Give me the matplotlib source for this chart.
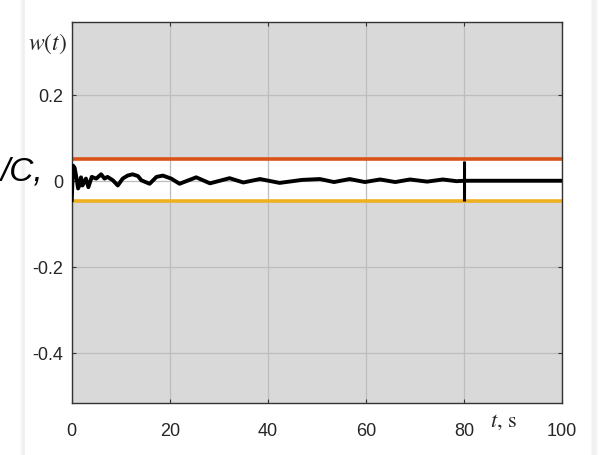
import matplotlib.pyplot as plt
from matplotlib.patches import Rectangle

# signal w(t)
t = [0, 0.3, 0.6, 1.0, 1.3, 1.6, 1.9, 2.2, 2.9, 3.4, 4.1, 5.0, 6.0, 6.7, 7.3,
     8.4, 9.4, 10.4, 11.4, 12.4, 13.5, 14.2, 15.9, 17.3, 18.6, 20.3, 22.0,
     25.4, 28.2, 32.2, 35.0, 38.4, 42.4, 47.0, 50.6, 53.5, 56.7, 59.8, 62.9,
     66.0, 69.0, 72.5, 75.7, 78.5, 80.0, 100.0]
w = [-0.045, 0.035, 0.03, 0.005, -0.018, -0.01, 0.008, -0.011, 0.005, -0.015,
     0.009, 0.005, 0.015, 0.005, 0.009, 0.001, -0.011, 0.005, 0.012, 0.015,
     0.011, 0.001, -0.007, 0.009, 0.012, 0.005, -0.007, 0.008, -0.006, 0.006,
     -0.004, 0.004, -0.005, 0.002, 0.004, -0.003, 0.004, -0.003, 0.003,
     -0.003, 0.003, -0.002, 0.003, -0.001, 0.0, 0.0]

upper = 0.05
lower = -0.047
t_mark = 80
xticks = [0, 20, 40, 60, 80, 100]
yticks = [-0.4, -0.2, 0, 0.2]
ylabels = ['-0.4', '-0.2', '0', '0.2']

tick_font = ['Liberation Sans Narrow', 'Liberation Sans', 'DejaVu Sans']
plt.rcParams['mathtext.fontset'] = 'stix'

fig = plt.figure(figsize=(6.05, 4.56), dpi=100)
fig.patch.set_facecolor('white')

# page shadow strips
for x0, wd, a in [(20, 5, 0.05), (22, 3, 0.05), (591, 7, 0.05), (592, 4, 0.05)]:
    fig.patches.append(Rectangle((x0 / 605, 0), wd / 605, 1, transform=fig.transFigure,
                                 color='gray', alpha=a, lw=0, zorder=0))

ax = fig.add_axes([71.7 / 605, 1 - 404 / 456, (562 - 71.7) / 605, (404 - 22.7) / 456])
ax.set_facecolor('#d9d9d9')
ax.axhspan(lower, upper, color='white', zorder=0.2, lw=0)
ax.grid(True, color='#bdbdbd', lw=0.9)
ax.set_axisbelow(True)

ax.axhline(upper, color='#d95319', lw=2.6, zorder=2)
ax.axhline(lower, color='#edb120', lw=2.6, zorder=2)
ax.plot(t, w, color='black', lw=2.8, zorder=3, solid_joinstyle='round')
ax.vlines(t_mark, lower, upper - 0.004, color='black', lw=2.2, zorder=3)

ax.set_xlim(0, 100)
ax.set_ylim(-0.517, 0.37)
ax.set_xticks(xticks)
ax.set_yticks(yticks)
ax.set_yticklabels(ylabels)
ax.tick_params(direction='in', length=3, width=0.8, color='#333333',
               top=True, right=True, labelsize=13, labelcolor='#262626')
ax.tick_params(axis='x', pad=14)
ax.tick_params(axis='y', pad=6)
for lab in ax.get_xticklabels() + ax.get_yticklabels():
    lab.set_family(tick_font)
for sp in ax.spines.values():
    sp.set_color('#333333')
    sp.set_linewidth(1.0)

fig.text(67 / 605, 1 - 44 / 456, r'$w(t)$', ha='right', va='center', fontsize=17, color='#262626')
fig.text(504 / 605, 1 - 422 / 456, r'$t$, s', ha='center', va='center', fontsize=16,
         color='#262626', family='STIXGeneral')
fig.text(1 / 605, 1 - 172 / 456, '/C,', ha='left', va='center', fontsize=24,
         style='italic', family=['Liberation Sans', 'DejaVu Sans'], color='black')

fig.savefig('out.png', dpi=100, facecolor='white')
